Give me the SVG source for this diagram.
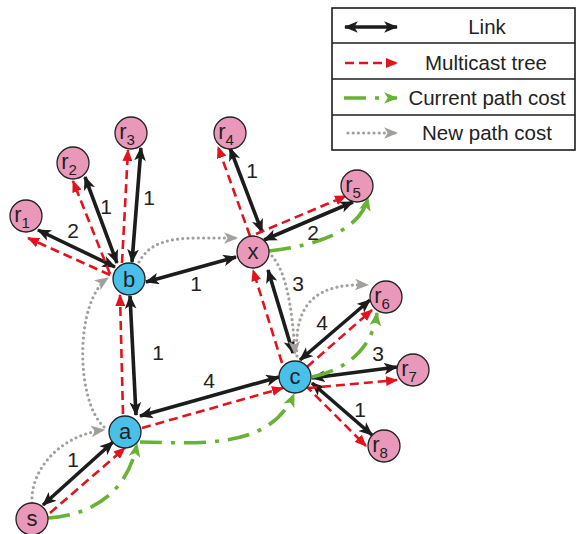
<svg xmlns="http://www.w3.org/2000/svg" width="588" height="534" viewBox="0 0 588 534">
<style>
text{font-family:"Liberation Sans",Arial,sans-serif;fill:#222;}
.lbl{font-size:21px;text-anchor:middle;}
.nl{font-size:22px;text-anchor:middle;}
.leg{font-size:20.5px;text-anchor:middle;}
.blk{stroke:#1c1c1c;stroke-width:3.6;fill:none;marker-start:url(#mb);marker-end:url(#mb);}
.red{stroke:#e3131d;stroke-width:2.6;fill:none;stroke-dasharray:9,5;marker-end:url(#mr);}
.grn{stroke:#68b234;stroke-width:3.6;fill:none;stroke-dasharray:22,9,4,9;marker-end:url(#mg);}
.gry{stroke:#a39f9c;stroke-width:3.2;fill:none;stroke-dasharray:0,5.2;stroke-linecap:round;marker-end:url(#my);}
.pk{fill:#ea98b9;stroke:#222;stroke-width:1.3;}
.bl{fill:#48c0e8;stroke:#222;stroke-width:1.3;}
</style>
<defs>
<marker id="mb" viewBox="0 0 12 10" refX="11" refY="5" markerWidth="14" markerHeight="12" markerUnits="userSpaceOnUse" orient="auto-start-reverse"><path d="M0,0 L12,5 L0,10 L3,5 z" fill="#1c1c1c"/></marker>
<marker id="mr" viewBox="0 0 12 10" refX="11" refY="5" markerWidth="12" markerHeight="10" markerUnits="userSpaceOnUse" orient="auto"><path d="M0,0 L12,5 L0,10 z" fill="#e3131d"/></marker>
<marker id="mg" viewBox="0 0 12 10" refX="11" refY="5" markerWidth="14" markerHeight="12" markerUnits="userSpaceOnUse" orient="auto"><path d="M0,0 L12,5 L0,10 L3,5 z" fill="#68b234"/></marker>
<marker id="my" viewBox="0 0 12 10" refX="11" refY="5" markerWidth="14" markerHeight="12" markerUnits="userSpaceOnUse" orient="auto"><path d="M0,0 L12,5 L0,10 L3,5 z" fill="#a39f9c"/></marker>
</defs>
<rect width="588" height="534" fill="#fff"/>

<g id="legend">
<rect x="332" y="8" width="243" height="142" fill="#fff" stroke="#1c1c1c" stroke-width="1.6"/>
<line x1="332" y1="43" x2="575" y2="43" stroke="#1c1c1c" stroke-width="1.6"/>
<line x1="332" y1="79" x2="575" y2="79" stroke="#1c1c1c" stroke-width="1.6"/>
<line x1="332" y1="115" x2="575" y2="115" stroke="#1c1c1c" stroke-width="1.6"/>
<line x1="345" y1="27" x2="397" y2="27" class="blk"/>
<line x1="345" y1="63" x2="397" y2="63" class="red"/>
<line x1="344" y1="98" x2="397" y2="98" class="grn"/>
<line x1="348" y1="133" x2="397" y2="133" class="gry"/>
<text class="leg" x="487" y="34">Link</text>
<text class="leg" x="486" y="70">Multicast tree</text>
<text class="leg" x="487" y="105">Current path cost</text>
<text class="leg" x="487" y="140">New path cost</text>
</g>

<g id="connectors">
<!-- links -->
<line x1="115" y1="267" x2="38" y2="230" class="blk"/>
<line x1="117" y1="263" x2="85" y2="177" class="blk"/>
<line x1="132" y1="262" x2="141" y2="148" class="blk"/>
<line x1="146" y1="282" x2="236" y2="257" class="blk"/>
<line x1="130" y1="296" x2="136" y2="415" class="blk"/>
<line x1="140" y1="416" x2="279" y2="377" class="blk"/>
<line x1="43" y1="505" x2="113" y2="442" class="blk"/>
<line x1="262" y1="232" x2="230" y2="148" class="blk"/>
<line x1="264" y1="240" x2="353" y2="202" class="blk"/>
<line x1="268" y1="270" x2="293" y2="353" class="blk"/>
<line x1="300" y1="360" x2="370" y2="300" class="blk"/>
<line x1="312" y1="378" x2="397" y2="367" class="blk"/>
<line x1="312" y1="383" x2="372" y2="435" class="blk"/>
<!-- multicast tree -->
<line x1="50" y1="513" x2="125" y2="448" class="red"/>
<line x1="123" y1="414" x2="120" y2="295" class="red"/>
<line x1="110" y1="275" x2="28" y2="238" class="red"/>
<line x1="110" y1="274" x2="73" y2="181" class="red"/>
<line x1="122" y1="263" x2="128" y2="150" class="red"/>
<line x1="142" y1="428" x2="283" y2="388" class="red"/>
<line x1="282" y1="363" x2="253" y2="270" class="red"/>
<line x1="250" y1="236" x2="218" y2="147" class="red"/>
<line x1="256" y1="234" x2="346" y2="196" class="red"/>
<line x1="307" y1="367" x2="372" y2="310" class="red"/>
<line x1="308" y1="388" x2="397" y2="380" class="red"/>
<line x1="305" y1="385" x2="366" y2="446" class="red"/>
<!-- current path cost -->
<path d="M48,518 C95,515 128,490 137,444" class="grn"/>
<path d="M140,442 C200,443 270,450 294,394" class="grn"/>
<path d="M312,377 C345,370 372,350 377,313" class="grn"/>
<path d="M269,251 C320,245 360,230 368,198" class="grn"/>
<!-- new path cost -->
<path d="M32,503 C30,470 60,435 104,430" class="gry"/>
<path d="M104,427 C75,400 75,300 108,278" class="gry"/>
<path d="M139,262 C150,242 170,238 200,238 L237,238" class="gry"/>
<path d="M272,256 C286,272 292,305 295,354" class="gry"/>
<path d="M297,356 C293,300 320,283 368,285" class="gry"/>
</g>

<g id="edge-labels">
<text class="lbl" x="73" y="238">2</text>
<text class="lbl" x="106" y="214">1</text>
<text class="lbl" x="149" y="205">1</text>
<text class="lbl" x="196" y="291">1</text>
<text class="lbl" x="158" y="360">1</text>
<text class="lbl" x="209" y="388">4</text>
<text class="lbl" x="73" y="467">1</text>
<text class="lbl" x="252" y="178">1</text>
<text class="lbl" x="313" y="240">2</text>
<text class="lbl" x="298" y="291">3</text>
<text class="lbl" x="322" y="330">4</text>
<text class="lbl" x="378" y="361">3</text>
<text class="lbl" x="360" y="417">1</text>
</g>

<g id="node-r1"><circle cx="26" cy="216" r="16" class="pk"/><text x="22" y="222" class="nl">r<tspan dy="6" font-size="15">1</tspan></text></g>
<g id="node-r2"><circle cx="73" cy="163" r="16" class="pk"/><text x="69" y="169" class="nl">r<tspan dy="6" font-size="15">2</tspan></text></g>
<g id="node-r3"><circle cx="131" cy="133" r="16" class="pk"/><text x="127" y="139" class="nl">r<tspan dy="6" font-size="15">3</tspan></text></g>
<g id="node-r4"><circle cx="230" cy="133" r="16" class="pk"/><text x="226" y="139" class="nl">r<tspan dy="6" font-size="15">4</tspan></text></g>
<g id="node-r5"><circle cx="357" cy="186" r="16" class="pk"/><text x="353" y="192" class="nl">r<tspan dy="6" font-size="15">5</tspan></text></g>
<g id="node-r6"><circle cx="386" cy="297" r="16" class="pk"/><text x="382" y="303" class="nl">r<tspan dy="6" font-size="15">6</tspan></text></g>
<g id="node-r7"><circle cx="413" cy="370" r="16" class="pk"/><text x="409" y="376" class="nl">r<tspan dy="6" font-size="15">7</tspan></text></g>
<g id="node-r8"><circle cx="384" cy="446" r="16" class="pk"/><text x="380" y="452" class="nl">r<tspan dy="6" font-size="15">8</tspan></text></g>
<g id="node-b"><circle cx="129" cy="279" r="16" class="bl"/><text x="129" y="287" class="nl">b</text></g>
<g id="node-x"><circle cx="253" cy="252" r="16" class="pk"/><text x="253" y="259" class="nl">x</text></g>
<g id="node-c"><circle cx="295" cy="377" r="16" class="bl"/><text x="295" y="384" class="nl">c</text></g>
<g id="node-a"><circle cx="125" cy="432" r="16" class="bl"/><text x="125" y="439" class="nl">a</text></g>
<g id="node-s"><circle cx="32" cy="519" r="16" class="pk"/><text x="32" y="526" class="nl">s</text></g>
</svg>
